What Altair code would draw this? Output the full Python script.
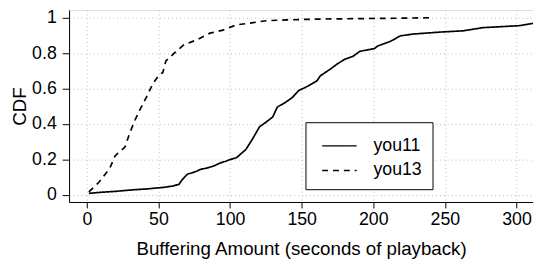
import altair as alt
import pandas as pd

you11_x = [1.4, 10, 20, 31, 42, 54, 60, 64.4, 66, 68, 70.2, 74, 77, 79.3, 84, 88.5, 93, 97, 100, 104.5,
           108, 111, 116, 120.6, 125, 129.8, 133, 139, 143.5, 148, 152.7, 160.7, 163, 170, 175, 180, 186,
           190.5, 200.8, 203, 212, 219, 228, 246.6, 262.6, 276.5, 301.7, 311.5, 320]
you11_y = [0.009, 0.015, 0.02, 0.028, 0.034, 0.043, 0.05, 0.06, 0.08, 0.098, 0.117, 0.126, 0.135, 0.144,
           0.152, 0.163, 0.18, 0.19, 0.2, 0.21, 0.235, 0.256, 0.32, 0.385, 0.41, 0.44, 0.496, 0.524, 0.55,
           0.59, 0.607, 0.644, 0.672, 0.71, 0.74, 0.765, 0.783, 0.81, 0.826, 0.84, 0.867, 0.898, 0.908,
           0.919, 0.926, 0.944, 0.955, 0.968, 0.975]

you13_x = [1.4, 8.3, 16, 19.7, 26.6, 30, 33.5, 36.9, 41.5, 46, 50.7, 53, 55.2, 61, 67.8, 77, 86, 95,
           104.5, 114, 125, 140, 160, 190, 215, 240]
you13_y = [0.017, 0.07, 0.15, 0.22, 0.27, 0.35, 0.42, 0.478, 0.55, 0.626, 0.68, 0.69, 0.756, 0.80,
           0.848, 0.876, 0.913, 0.93, 0.96, 0.97, 0.983, 0.988, 0.992, 0.995, 0.997, 1.0]

series = ["you11", "you13"]
x_ticks = [0, 50, 100, 150, 200, 250, 300]
y_ticks = [0, 0.2, 0.4, 0.6, 0.8, 1]

rows = []
for i, (x, y) in enumerate(zip(you11_x, you11_y)):
    rows.append({"series": "you11", "x": x, "y": y, "i": i})
for i, (x, y) in enumerate(zip(you13_x, you13_y)):
    rows.append({"series": "you13", "x": x, "y": y, "i": i})
df = pd.DataFrame(rows)

FONT = "Liberation Sans"

chart = alt.Chart(df).mark_line(strokeWidth=1.7, clip=True, color="black").encode(
    x=alt.X("x:Q", scale=alt.Scale(domain=[-12.4, 311.5], nice=False, zero=False),
            axis=alt.Axis(values=x_ticks, title="Buffering Amount (seconds of playback)",
                          grid=True, gridDash=[1, 3], gridColor="#bbbbbb",
                          domainColor="black", tickColor="black", tickSize=6,
                          labelPadding=3, labelFontSize=18, titleFontSize=19,
                          labelColor="black", titleColor="black", titleFontWeight="normal",
                          titlePadding=11, labelFont=FONT, titleFont=FONT)),
    y=alt.Y("y:Q", scale=alt.Scale(domain=[-0.04, 1.044], nice=False, zero=False),
            axis=alt.Axis(values=y_ticks, format="~g", title="CDF",
                          grid=True, gridDash=[1, 3], gridColor="#bbbbbb",
                          domainColor="black", tickColor="black", tickSize=7,
                          labelPadding=6, labelFontSize=18, titleFontSize=19,
                          labelColor="black", titleColor="black", titleFontWeight="normal",
                          titlePadding=2, labelFont=FONT, titleFont=FONT)),
    strokeDash=alt.StrokeDash("series:N",
                              scale=alt.Scale(domain=series, range=[[1, 0], [6, 5]]),
                              legend=alt.Legend(title=None, orient="none", legendX=240, legendY=114,
                                                strokeColor="black", fillColor="white",
                                                padding=10, labelFontSize=18, labelFont=FONT,
                                                labelColor="black", symbolSize=676,
                                                symbolStrokeWidth=1.5, symbolStrokeColor="black",
                                                symbolType="M-0.54,0L2.15,0", rowPadding=2,
                                                labelOffset=31)),
    order="i:Q",
).properties(
    width=471, height=195,
    autosize=alt.AutoSizeParams(type="none"),
    padding={"left": 62, "top": 0, "right": 0, "bottom": 63},
).configure_view(stroke="#777777", strokeWidth=1.2).configure(font=FONT)

chart.save("out.html", embed_options={"renderer": "svg", "actions": False})
